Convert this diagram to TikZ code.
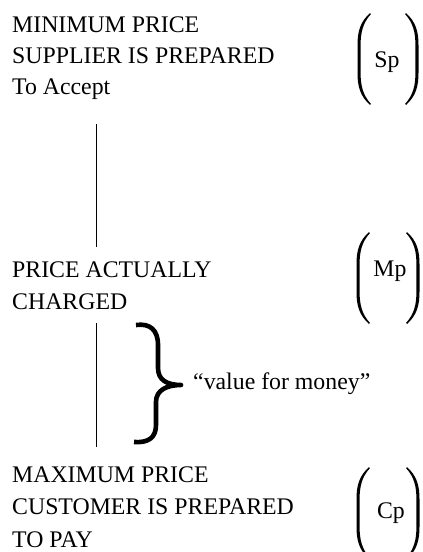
\documentclass[tikz,border=0pt]{standalone}
\usepackage{fontspec}
\setmainfont{Liberation Serif}
\tikzset{
  lbl/.style={anchor=base west, inner sep=0pt, font=\fontsize{23.8}{32}\selectfont},
  sym/.style={anchor=base, inner sep=0pt, font=\fontsize{23.8}{32}\selectfont},
  vline/.style={line width=1pt, black},
  bracestroke/.style={line width=4.6pt, black, line cap=butt, line join=round},
  lpar/.pic={
    \fill[black] (0,0) .. controls (-10,9) and (-12.5,19) .. (-12.5,32) -- (-12.5,60)
      .. controls (-12.5,73) and (-10,83) .. (0,92) -- (0.8,90.8)
      .. controls (-7,82) and (-9.4,73) .. (-9.4,60) -- (-9.4,32)
      .. controls (-9.4,19) and (-7,10) .. (0.8,1.2) -- cycle;
  }
}
\begin{document}
\begin{tikzpicture}[x=1pt,y=-1pt]
\useasboundingbox (0,0) rectangle (423,552);

% block 1
\node[lbl] (min1) at (12,32) {MINIMUM PRICE};
\node[lbl] (min2) at (12,63) {SUPPLIER IS PREPARED};
\node[lbl] (min3) at (12,94) {To Accept};
\pic at (370,13) {lpar};
\pic[xscale=-1] at (406,13) {lpar};
\node[sym] (sp) at (387,67) {Sp};

% block 2
\node[lbl] (act1) at (12,277) {PRICE ACTUALLY};
\node[lbl] (act2) at (12,309) {CHARGED};
\pic at (369,232) {lpar};
\pic[xscale=-1] at (407,232) {lpar};
\node[sym] (mp) at (390,276) {Mp};

% block 3
\node[lbl] (max1) at (12,482) {MAXIMUM PRICE};
\node[lbl] (max2) at (12,514) {CUSTOMER IS PREPARED};
\node[lbl] (max3) at (12,547) {TO PAY};
\pic at (369,467) {lpar};
\pic[xscale=-1] at (407,467) {lpar};
\node[sym] (cp) at (391,518) {Cp};

% vertical lines
\coordinate (l1a) at (96,124);
\coordinate (l1b) at (96,247);
\coordinate (l2a) at (96,323);
\coordinate (l2b) at (96,447);
\draw[vline] (l1a) -- (l1b);
\draw[vline] (l2a) -- (l2b);

% brace
\draw[bracestroke] (136,325) .. controls (150,323) and (158,330) .. (158,345) -- (158,368)
  .. controls (158,380) and (167,385) .. (181,385)
  .. controls (167,385) and (156,390) .. (156,402) -- (156,425)
  .. controls (156,438) and (148,443) .. (134,442);
\node[lbl] (vfm) at (193,389) {“value for money”};
\end{tikzpicture}
\end{document}
